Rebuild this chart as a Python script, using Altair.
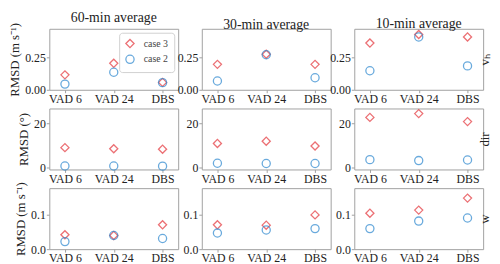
import altair as alt
import pandas as pd

methods = ["VAD 6", "VAD 24", "DBS"]
averages = ["60-min average", "30-min average", "10-min average"]
cases = ["case 3", "case 2"]
colors = ["#e4343a", "#2b87cf"]
shapes = ["diamond", "circle"]

# RMSD per averaging period (60, 30, 10 min), each list ordered as methods
vh_case3 = [[0.115, 0.204, 0.057], [0.196, 0.274, 0.196], [0.360, 0.426, 0.407]]
vh_case2 = [[0.044, 0.135, 0.055], [0.068, 0.270, 0.093], [0.147, 0.407, 0.184]]
dir_case3 = [[9.1, 8.6, 8.4], [11.0, 12.0, 9.85], [22.7, 24.4, 20.8]]
dir_case2 = [[0.86, 0.86, 0.80], [2.1, 2.0, 2.0], [3.7, 3.3, 3.55]]
w_case3 = [[0.042, 0.040, 0.071], [0.071, 0.070, 0.100], [0.105, 0.114, 0.149]]
w_case2 = [[0.022, 0.040, 0.031], [0.047, 0.056, 0.060], [0.060, 0.082, 0.091]]

rows = [
    dict(c3=vh_case3, c2=vh_case2, domain=[0, 0.47], ticks=[0, 0.25], fmt=".2f",
         ytitle="RMSD (m s⁻¹)", rtitle="vₕ"),
    dict(c3=dir_case3, c2=dir_case2, domain=[-0.7, 26.7], ticks=[0, 20], fmt="d",
         ytitle="RMSD (°)", rtitle="dir"),
    dict(c3=w_case3, c2=w_case2, domain=[0, 0.178], ticks=[0, 0.1], fmt=".1f",
         ytitle="RMSD (m s⁻¹)", rtitle="w"),
]

W, H = 131, 62
FONT = "Liberation Serif"
GREY = "#a0a0a0"

panels = []
for r, spec in enumerate(rows):
    for c in range(3):
        recs = []
        for case, vals in (("case 3", spec["c3"][c]), ("case 2", spec["c2"][c])):
            for m, v in zip(methods, vals):
                recs.append({"method": m, "case": case, "rmsd": v})
        df = pd.DataFrame(recs)
        legend = None
        if r == 0 and c == 0:
            legend = alt.Legend(title=None, orient="top-right", offset=4, padding=6,
                                strokeColor="#d0d0d0", cornerRadius=3, fillColor="white",
                                labelFont=FONT, labelFontSize=10, labelColor="#444",
                                labelOffset=9, symbolSize=70, symbolStrokeWidth=1.3,
                                rowPadding=2)
        x = alt.X("method:N", sort=methods,
                  scale=alt.Scale(type="point", padding=0.32),
                  axis=alt.Axis(title=None, labelAngle=0))
        yaxis = alt.Axis(values=spec["ticks"], format=spec["fmt"],
                         title=spec["ytitle"] if c == 0 else None,
                         grid=False, titlePadding=3)
        y = alt.Y("rmsd:Q", scale=alt.Scale(domain=spec["domain"], nice=False, zero=False),
                  axis=yaxis)
        color = alt.Color("case:N", scale=alt.Scale(domain=cases, range=colors), legend=legend)
        shape = alt.Shape("case:N", scale=alt.Scale(domain=cases, range=shapes), legend=legend)
        pts = alt.Chart(df).mark_point(filled=False, size=68, strokeWidth=1.3).encode(
            x=x, y=y, color=color, shape=shape)
        layers = [pts]
        if c == 2:
            right = alt.Chart(df).mark_point(opacity=0).encode(
                x=alt.X("method:N", sort=methods,
                        scale=alt.Scale(type="point", padding=0.32)),
                y=alt.Y("rmsd:Q",
                        axis=alt.Axis(orient="right", title=spec["rtitle"], labels=False,
                                      ticks=False, domain=False, grid=False,
                                      titleAngle=270, titlePadding=8)))
            layers.append(right)
        panel = alt.layer(*layers).resolve_axis(y="independent").properties(width=W, height=H)
        if r == 0:
            panel = panel.properties(title=alt.TitleParams(averages[c], offset=-3))
        panels.append(panel)

chart = alt.concat(
    *panels, columns=3, spacing={"row": 19, "column": 24}, bounds="flush"
).resolve_scale(
    color="independent", shape="independent"
).properties(padding=0).configure_view(
    stroke=GREY, strokeWidth=1
).configure_axis(
    domain=False, tickColor=GREY, tickSize=3, labelPadding=1,
    labelFont=FONT, labelFontSize=12, labelColor="#222",
    titleFont=FONT, titleFontSize=13, titleFontWeight="normal", titleColor="#222"
).configure_title(
    font=FONT, fontSize=14, fontWeight="normal", color="#222"
)

chart.save("out.html", embed_options={"renderer": "svg", "actions": False})
